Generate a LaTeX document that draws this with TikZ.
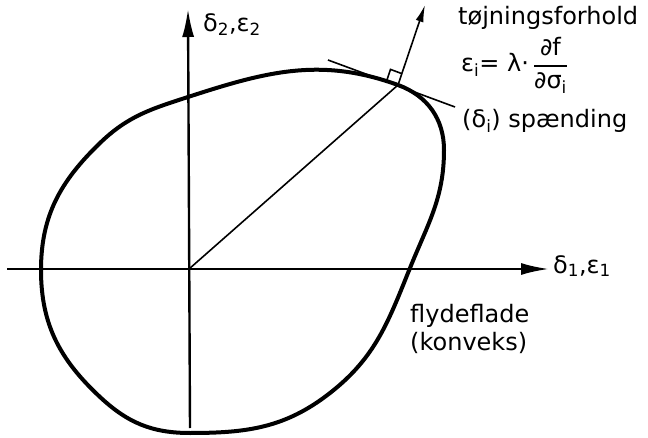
\documentclass[tikz,border=0pt]{standalone}
\usepackage{fontspec}
\setmainfont{DejaVu Sans}
\usepackage{amsmath}
\usetikzlibrary{arrows.meta}
\tikzset{
  lbl/.style={font=\fontsize{24}{28}\selectfont, inner sep=0pt},
  axis/.style={line width=2.4pt, -{Latex[length=28pt,width=12pt]}},
  flade/.style={line width=4pt, line join=round},
  fin/.style={line width=1.6pt},
}
\begin{document}
\begin{tikzpicture}[x=1pt,y=1pt]
    \useasboundingbox (0,0) rectangle (648,437);
    % Akser
    \coordinate (O) at (189,168);
    \coordinate (xs) at (7,168);
    \coordinate (xe) at (549,168);
    \coordinate (ys) at (190,9);
    \coordinate (ye) at (188,428);
    \draw[axis] (xs) -- (xe);
    \draw[axis] (ys) -- (ye);
    \node[lbl,anchor=west] (x1) at (553,171) {δ\textsubscript{1},ε\textsubscript{1}};
    \node[lbl,anchor=west] (y2) at (203,412) {δ\textsubscript{2},ε\textsubscript{2}};
    % Flydeflade
    \coordinate (P) at (398,352);
    \draw[flade] (P) to[out=-20,in=90] (444,287)
      to[out=-90,in=68] (410,169)
      to[out=-112,in=38] (330,44)
      to[out=-142,in=0] (190,4)
      to[out=180,in=-43] (100,40)
      to[out=137,in=-90] (41,167)
      to[out=90,in=-136] (100,294)
      to[out=44,in=-162] (188,340)
      to[out=18,in=160] cycle;
    % Tangent og normal i P
    \coordinate (t1) at (328,377);
    \coordinate (t2) at (455,330);
    \coordinate (n) at (425,432);
    \draw[fin] (O) -- (P);
    \draw[fin] (t1) -- (t2);
    \draw[fin,-{Latex[length=17pt,width=8pt]}] (P) -- (n);
    \draw[fin] (P) ++(3.8,11.4) -- ++(-11.3,4.2) -- ++(-3.8,-11.4);
    % Tekster
    \node[lbl,anchor=base west] (tf) at (458,412) {tøjningsforhold};
    \node[lbl,anchor=west] (eq) at (461,372)
      {ε\textsubscript{i}= λ·\,$\genfrac{}{}{2pt}{0}{\text{∂f}}{\text{∂σ\textsubscript{i}}}$};
    \node[lbl,anchor=base west] (sp) at (462,309) {(δ\textsubscript{i}) spænding};
    \node[lbl,anchor=base west,align=left] (ff) at (410,87) {flydeflade\\(konveks)};
\end{tikzpicture}
\end{document}
